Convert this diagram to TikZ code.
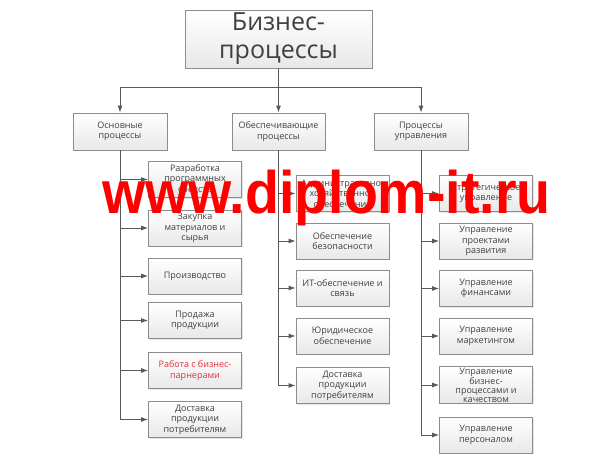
\documentclass[tikz,border=0pt]{standalone}
\usepackage{fontspec}
\setmainfont{Open Sans}
\newfontfamily\wmfont{Liberation Sans}
\usetikzlibrary{arrows.meta,shadows}
\definecolor{linegray}{HTML}{595959}
\definecolor{boxgray}{HTML}{8C8C8C}
\definecolor{txtgray}{HTML}{404040}
\definecolor{redtxt}{HTML}{E0303A}
\tikzset{
  box/.style={draw=boxgray, line width=0.8pt, top color=white, bottom color=black!9,
    text=txtgray, align=center, inner sep=1pt, font=\fontsize{9}{10.5}\selectfont,
    drop shadow={shadow xshift=1pt, shadow yshift=-1pt, opacity=0.2}},
  leaf/.style={box, minimum width=93pt, minimum height=36pt},
  conn/.style={draw=linegray, line width=0.9pt, -{Latex[length=7pt,width=5pt]}}
}
\begin{document}
\begin{tikzpicture}[x=1pt,y=-1pt]
\fill[white] (0,0) rectangle (616,460);
\useasboundingbox (0,0) rectangle (616,460);

\node[box, minimum width=187pt, minimum height=58pt, font=\fontsize{25}{28}\selectfont] (top) at (278.5,39) {Бизнес-\\процессы};

\node[box, minimum width=94pt, minimum height=37pt] (main) at (120,131.5) {Основные\\процессы};
\node[box, minimum width=93pt, minimum height=37pt] (supp) at (278.5,131.5) {Обеспечивающие\\процессы};
\node[box, minimum width=94pt, minimum height=37pt] (mgmt) at (421,131.5) {Процессы\\управления};

\node[leaf] (a1) at (195,179.5) {Разработка\\программных\\средств};
\node[leaf] (a2) at (195,228) {Закупка\\материалов и\\сырья};
\node[leaf] (a3) at (195,276) {Производство};
\node[leaf] (a4) at (195,320.5) {Продажа\\продукции};
\node[leaf, text=redtxt] (a5) at (195,370.5) {Работа с бизнес-\\парнерами};
\node[leaf] (a6) at (195,419.5) {Доставка\\продукции\\потребителям};

\node[leaf] (b1) at (342.5,193.5) {Административно-\\хозяйственное\\обеспечение};
\node[leaf] (b2) at (342.5,241) {Обеспечение\\безопасности};
\node[leaf] (b3) at (342.5,288) {ИТ-обеспечение и\\связь};
\node[leaf] (b4) at (342.5,336) {Юридическое\\обеспечение};
\node[leaf] (b5) at (342.5,385.5) {Доставка\\продукции\\потребителям};

\node[leaf] (c1) at (486,193.5) {Стратегическое\\управление};
\node[leaf] (c2) at (486,241) {Управление\\проектами\\развития};
\node[leaf] (c3) at (486,288.5) {Управление\\финансами};
\node[leaf] (c4) at (486,336) {Управление\\маркетингом};
\node[leaf, font=\fontsize{9}{9}\selectfont] (c5) at (486,385) {Управление\\бизнес-\\процессами и\\качеством};
\node[leaf] (c6) at (486,435) {Управление\\персоналом};

\coordinate (split) at (278.5,87);
\draw[draw=linegray, line width=0.9pt] (top.south) -- (split);
\draw[conn] (split) -- (supp.north);
\draw[conn] (split) -| (main.north);
\draw[conn] (split) -| (mgmt.north);

\draw[conn] (main.south) |- (a1.west);
\draw[conn] (main.south) |- (a2.west);
\draw[conn] (main.south) |- (a3.west);
\draw[conn] (main.south) |- (a4.west);
\draw[conn] (main.south) |- (a5.west);
\draw[conn] (main.south) |- (a6.west);

\draw[conn] (supp.south) |- (b1.west);
\draw[conn] (supp.south) |- (b2.west);
\draw[conn] (supp.south) |- (b3.west);
\draw[conn] (supp.south) |- (b4.west);
\draw[conn] (supp.south) |- (b5.west);

\draw[conn] (mgmt.south) |- (c1.west);
\draw[conn] (mgmt.south) |- (c2.west);
\draw[conn] (mgmt.south) |- (c3.west);
\draw[conn] (mgmt.south) |- (c4.west);
\draw[conn] (mgmt.south) |- (c5.west);
\draw[conn] (mgmt.south) |- (c6.west);

\node[anchor=base west, inner sep=0pt, text=red, font=\wmfont\bfseries\fontsize{60}{60}\selectfont] (site) at (102,213) {\scalebox{0.926}[1]{www.diplom-it.ru}};
\end{tikzpicture}
\end{document}
